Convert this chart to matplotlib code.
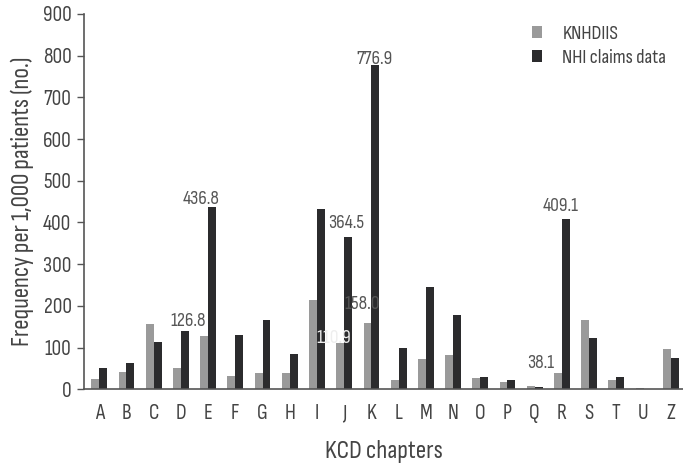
import numpy as np
import matplotlib
matplotlib.use('Agg')
import matplotlib.pyplot as plt

chapters = ['A', 'B', 'C', 'D', 'E', 'F', 'G', 'H', 'I', 'J', 'K',
            'L', 'M', 'N', 'O', 'P', 'Q', 'R', 'S', 'T', 'U', 'Z']
knhdiis = [24, 42, 157, 50, 126.8, 32, 38, 38, 214, 110.9, 158.0,
           22, 73, 81, 27, 17, 7, 38.1, 166, 23, 3, 97]
nhi_claims = [52, 62, 113, 139, 436.8, 129, 167, 84, 433, 364.5, 776.9,
              98, 246, 178, 29, 21, 5, 409.1, 122, 29, 1, 74]
yticks = list(range(0, 901, 100))

# (chapter, series, x shift, y pad) for the printed values
labelled = [('E', 0, -0.74, 16), ('E', 1, -0.26, -3),
            ('J', 0, -0.37, 0), ('J', 1, 0.07, 12),
            ('K', 0, -0.35, 24), ('K', 1, 0.11, -6),
            ('R', 0, -0.77, 4), ('R', 1, -0.03, 9)]

plt.rcParams['font.family'] = ['Sofia Sans Condensed', 'DejaVu Sans']

grey = '#9a9a9a'
dark = '#2b2b2d'
txt = '#444444'

fig = plt.figure(figsize=(6.83, 4.65), dpi=100)
ax = fig.add_axes([0.123, 0.163, 0.877, 0.807])

x = np.arange(len(chapters))
w = 0.29
ax.bar(x - w / 2, knhdiis, w, color=grey, label='KNHDIIS')
ax.bar(x + w / 2, nhi_claims, w, color=dark, label='NHI claims data')

series = [knhdiis, nhi_claims]
for ch, s, dx, dy in labelled:
    i = chapters.index(ch)
    v = series[s][i]
    col = '#eeeeee' if (ch == 'J' and s == 0) else '#555555'
    va = 'center' if (ch == 'J' and s == 0) else 'bottom'
    ax.text(i + dx, v + dy + (11 if va == 'center' else 0), '%.1f' % v,
            ha='center', va=va, fontsize=14, color=col)

ax.set_xlim(-0.56, 21.45)
ax.set_ylim(0, 900)
ax.set_yticks(yticks)
ax.set_xticks(x)
ax.set_xticklabels(chapters)
ax.tick_params(axis='x', length=0, pad=11, labelsize=15.5, colors=txt)
ax.tick_params(axis='y', length=5, width=1, pad=4, labelsize=15.5, colors=txt, color='#555555')
for s in ['top', 'right']:
    ax.spines[s].set_visible(False)
for s in ['left', 'bottom']:
    ax.spines[s].set_color('#555555')
    ax.spines[s].set_linewidth(1.2)

ax.set_xlabel('KCD chapters', fontsize=18.5, color=txt, labelpad=12)
ax.set_ylabel('Frequency per 1,000 patients (no.)', fontsize=18.3, color=txt, labelpad=6)

ax.legend(loc='upper left', bbox_to_anchor=(0.748, 0.97), frameon=False,
          borderpad=0, borderaxespad=0,
          fontsize=14.5, handlelength=0.5, handleheight=0.5, handletextpad=1.0,
          labelspacing=0.3, labelcolor=txt)

plt.savefig('out.png', dpi=100)
